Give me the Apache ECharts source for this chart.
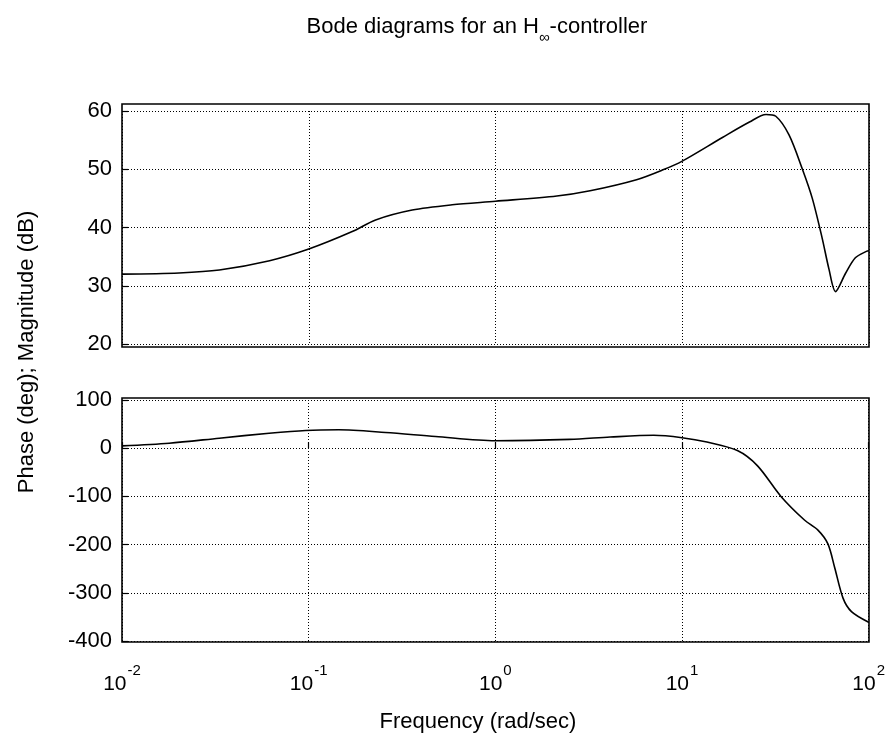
<!DOCTYPE html>
<html>
<head>
<meta charset="utf-8">
<script src="https://cdn.jsdelivr.net/npm/echarts@6/dist/echarts.min.js"></script>
<style>html,body{margin:0;padding:0;background:#fff;}#c{width:888px;height:740px;}</style>
</head>
<body>
<div id="c"></div>
<script>
// Magnitude (dB) vs frequency (rad/sec)
var magFreq = [0.01, 0.0202, 0.0332, 0.0617, 0.1, 0.171, 0.228, 0.358, 0.586, 1.0, 2.13, 3.21, 5.69, 7.89, 10, 16.5, 22.9, 28.1, 31.7, 37.3, 44.0, 49.7, 56.2, 61.0, 66.2, 74.8, 84.5, 96.8, 100];
var magDb = [32.0, 32.2, 32.7, 34.3, 36.3, 39.3, 41.3, 43.0, 43.9, 44.5, 45.4, 46.3, 48.2, 49.9, 51.4, 55.5, 58.1, 59.4, 59.1, 55.9, 50.0, 45.0, 38.1, 32.9, 29.0, 32.1, 34.8, 35.9, 36.0];
// Phase (deg) vs frequency (rad/sec)
var phaseFreq = [0.01, 0.0179, 0.0332, 0.0614, 0.0964, 0.145, 0.258, 0.478, 1.0, 2.51, 4.12, 7.06, 10, 13.6, 19.8, 25.4, 33.9, 45.3, 53.5, 60.5, 65.8, 72.9, 80.9, 100];
var phaseDeg = [4.9, 10.4, 20.8, 31, 36.8, 38.2, 32.6, 24.3, 15.5, 18.3, 23.2, 26.8, 21.8, 12.7, -4.9, -36.6, -100, -149, -170, -198.6, -248, -311, -339, -361];
// Axis settings
var magTicks = [20, 30, 40, 50, 60];
var phaseTicks = [-400, -300, -200, -100, 0, 100];
var titleText = 'Bode diagrams for an H';
var titleSub = '∞';
var titleRest = '-controller';
var xTitle = 'Frequency (rad/sec)';
var yTitle = 'Phase (deg); Magnitude (dB)';

function pairs(xs, ys) { return xs.map(function (x, i) { return [x, ys[i]]; }); }

var FONT = 'Liberation Sans, Arial, sans-serif';
var grid = { color: '#000', type: [1, 2], width: 1 };
var tick = { show: true, inside: true, length: 6, lineStyle: { color: '#000', width: 1.2 } };

var chart = echarts.init(document.getElementById('c'), null, { renderer: 'canvas' });
chart.setOption({
  backgroundColor: '#fff',
  animation: false,
  grid: [
    { left: 122, right: 19, top: 111, height: 233, show: false },
    { left: 122, right: 19, top: 400, height: 241, show: false }
  ],
  xAxis: [
    { type: 'log', logBase: 10, min: 0.01, max: 100, gridIndex: 0,
      axisLine: { show: false }, axisTick: { show: false }, axisLabel: { show: false },
      splitLine: { show: true, lineStyle: grid }, minorSplitLine: { show: false } },
    { type: 'log', logBase: 10, min: 0.01, max: 100, gridIndex: 1,
      axisLine: { show: false }, axisTick: tick,
      axisLabel: { show: true, margin: 22, fontFamily: FONT, color: '#000',
        formatter: function (v) { var e = Math.round(Math.log(v) / Math.LN10); return '{b|10}{e|' + e + '}'; },
        rich: {
          b: { fontSize: 21, fontFamily: FONT, color: '#000', verticalAlign: 'bottom' },
          e: { fontSize: 15, fontFamily: FONT, color: '#000', verticalAlign: 'bottom', padding: [0, 0, 17, 1] }
        } },
      splitLine: { show: true, lineStyle: grid }, minorSplitLine: { show: false } }
  ],
  yAxis: [
    { type: 'value', gridIndex: 0, min: magTicks[0], max: magTicks[magTicks.length - 1], interval: 10,
      axisLine: { show: false }, axisTick: tick,
      axisLabel: { margin: 10, fontSize: 22, fontFamily: FONT, color: '#000' },
      splitLine: { show: true, lineStyle: grid } },
    { type: 'value', gridIndex: 1, min: phaseTicks[0], max: phaseTicks[phaseTicks.length - 1], interval: 100,
      axisLine: { show: false }, axisTick: tick,
      axisLabel: { margin: 10, fontSize: 22, fontFamily: FONT, color: '#000' },
      splitLine: { show: true, lineStyle: grid } }
  ],
  series: [
    { type: 'line', xAxisIndex: 0, yAxisIndex: 0, data: pairs(magFreq, magDb), showSymbol: false,
      smooth: 0.3, lineStyle: { color: '#000', width: 1.6 }, z: 5 },
    { type: 'line', xAxisIndex: 1, yAxisIndex: 1, data: pairs(phaseFreq, phaseDeg), showSymbol: false,
      smooth: 0.3, lineStyle: { color: '#000', width: 1.6 }, z: 5 }
  ],
  graphic: [
    { type: 'rect', shape: { x: 122, y: 104, width: 747, height: 243 }, style: { fill: 'none', stroke: '#000', lineWidth: 1.6 }, z: 10 },
    { type: 'rect', shape: { x: 122, y: 398, width: 747, height: 244 }, style: { fill: 'none', stroke: '#000', lineWidth: 1.6 }, z: 10 },
    { type: 'text', x: 477, y: 16, style: {
        text: '{a|' + titleText + '}{s|' + titleSub + '}{a|' + titleRest + '}',
        align: 'center', verticalAlign: 'top',
        rich: {
          a: { fontSize: 22, fontFamily: FONT, fill: '#000', verticalAlign: 'top' },
          s: { fontSize: 15, fontFamily: FONT, fill: '#000', verticalAlign: 'top', padding: [14, 0, 0, 0] }
        } } },
    { type: 'text', x: 478, y: 722, style: { text: xTitle, fontSize: 22, fontFamily: FONT, fill: '#000', align: 'center', verticalAlign: 'middle' } },
    { type: 'text', x: 27, y: 352, rotation: Math.PI / 2, style: { text: yTitle, fontSize: 22, fontFamily: FONT, fill: '#000', align: 'center', verticalAlign: 'middle' } }
  ]
});
</script>
</body>
</html>
